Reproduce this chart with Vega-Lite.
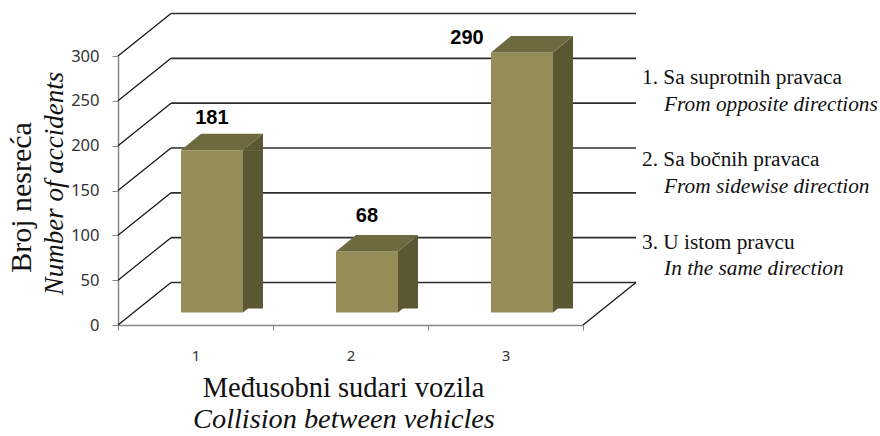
{
"$schema":"https://vega.github.io/schema/vega-lite/v6.json",
"width":465,"height":269,
"autosize":"none",
"padding":{"left":118,"top":56,"right":297,"bottom":111},
"background":"white",
"view":{"stroke":null},
"config":{"axis":{"grid":false}},
"datasets":{
"bars":[{"group":"1","accidents":181},{"group":"2","accidents":68},{"group":"3","accidents":290}],
"frame":[
{"kind":"side","x0":0.5,"x1":0.842,"y0":0,"y1":47.4},
{"kind":"side","x0":0.5,"x1":0.842,"y0":50,"y1":97.4},
{"kind":"side","x0":0.5,"x1":0.842,"y0":100,"y1":147.4},
{"kind":"side","x0":0.5,"x1":0.842,"y0":150,"y1":197.4},
{"kind":"side","x0":0.5,"x1":0.842,"y0":200,"y1":247.4},
{"kind":"side","x0":0.5,"x1":0.842,"y0":250,"y1":297.4},
{"kind":"side","x0":0.5,"x1":0.842,"y0":300,"y1":347.4},
{"kind":"side","x0":3.5,"x1":3.842,"y0":0,"y1":47.4},
{"kind":"wall","x0":0.842,"x1":3.842,"y0":47.4,"y1":47.4},
{"kind":"wall","x0":0.842,"x1":3.842,"y0":97.4,"y1":97.4},
{"kind":"wall","x0":0.842,"x1":3.842,"y0":147.4,"y1":147.4},
{"kind":"wall","x0":0.842,"x1":3.842,"y0":197.4,"y1":197.4},
{"kind":"wall","x0":0.842,"x1":3.842,"y0":247.4,"y1":247.4},
{"kind":"wall","x0":0.842,"x1":3.842,"y0":297.4,"y1":297.4},
{"kind":"wall","x0":0.842,"x1":3.842,"y0":347.4,"y1":347.4}
],
"notes":[
{"style":"value","label":"181","x":1.106,"y":230.8},
{"style":"value","label":"68","x":2.106,"y":121.6},
{"style":"value","label":"290","x":2.752,"y":320},
{"style":"roman","label":"1. Sa suprotnih pravaca","x":3.881,"y":275.5},
{"style":"italic","label":"From opposite directions","x":4.023,"y":245.3},
{"style":"roman","label":"2. Sa bočnih pravaca","x":3.881,"y":184},
{"style":"italic","label":"From sidewise direction","x":4.023,"y":153.9},
{"style":"roman","label":"3. U istom pravcu","x":3.881,"y":91.4},
{"style":"italic","label":"In the same direction","x":4.023,"y":62.5},
{"style":"xtitle","label":"Međusobni sudari vozila","x":1.955,"y":-70.5},
{"style":"xsub","label":"Collision between vehicles","x":1.958,"y":-106},
{"style":"ytitle","label":"Broj nesreća","x":-0.119,"y":142.2},
{"style":"ysub","label":"Number of accidents","x":0.094,"y":157.8}
]
},
"resolve":{"scale":{"x":"independent"},"axis":{"x":"independent"}},
"layer":[
{"data":{"name":"frame"},"transform":[{"filter":"datum.kind==='wall'"}],
 "mark":{"type":"rule","stroke":"#2e2e2e","strokeWidth":1.6},
 "encoding":{"x":{"field":"x0","type":"quantitative","axis":null,"scale":{"domain":[0.5,3.5],"nice":false,"zero":false}},"x2":{"field":"x1"},
 "y":{"field":"y0","type":"quantitative","axis":{"values":[0,50,100,150,200,250,300],"title":null,"domainColor":"#868686","tickColor":"#868686","domainWidth":1.5,"tickSize":6,"labelFont":"Noto Sans","labelFontSize":16.5,"labelColor":"#333333","labelPadding":13},"scale":{"domain":[0,300],"nice":false,"zero":false}},"y2":{"field":"y1"}}},
{"data":{"name":"frame"},"transform":[{"filter":"datum.kind==='side'"}],
 "mark":{"type":"rule","stroke":"#111111","strokeWidth":1.2},
 "encoding":{"x":{"field":"x0","type":"quantitative","axis":null,"scale":{"domain":[0.5,3.5],"nice":false,"zero":false}},"x2":{"field":"x1"},
 "y":{"field":"y0","type":"quantitative"},"y2":{"field":"y1"}}},
{"data":{"name":"bars"},
 "mark":{"type":"bar","size":62,"xOffset":16.5,"yOffset":-12.5,"fill":"#958d58"},
 "encoding":{"x":{"field":"group","type":"nominal","scale":{"paddingInner":0,"paddingOuter":0},
  "axis":{"title":null,"labelAngle":0,"tickBand":"extent","domainColor":"#868686","tickColor":"#868686","domainWidth":1.5,"tickSize":5,"labelFont":"Noto Sans","labelFontSize":15,"labelColor":"#333333","labelPadding":18}},
  "y":{"field":"accidents","type":"quantitative"}}},
{"data":{"name":"bars"},
 "mark":{"type":"bar","size":20,"xOffset":57.5,"yOffset":-12.5,"fill":"#5c5733"},
 "encoding":{"x":{"field":"group","type":"nominal","axis":null,"scale":{"paddingInner":0,"paddingOuter":0}},
  "y":{"field":"accidents","type":"quantitative"},"y2":{"datum":18.4}}},
{"data":{"name":"bars"},
 "mark":{"type":"point","filled":true,"opacity":1,"size":4,"xOffset":16.5,"yOffset":-12.5,"fill":"#5c5733","shape":"M31 0 L51 -16.5 L51 0.5 L31 0.5 Z"},
 "encoding":{"x":{"field":"group","type":"nominal","axis":null,"scale":{"paddingInner":0,"paddingOuter":0}},
  "y":{"field":"accidents","type":"quantitative"}}},
{"data":{"name":"bars"},
 "mark":{"type":"point","filled":true,"opacity":1,"size":4,"xOffset":16.5,"yOffset":-12.5,"fill":"#6f6940","shape":"M-31 0 L31 0 L51 -16.5 L-11 -16.5 Z"},
 "encoding":{"x":{"field":"group","type":"nominal","axis":null,"scale":{"paddingInner":0,"paddingOuter":0}},
  "y":{"field":"accidents","type":"quantitative"}}},
{"data":{"name":"bars"},
 "mark":{"type":"point","filled":true,"opacity":1,"size":4,"xOffset":16.5,"yOffset":-12.5,"fill":"#5c5733","shape":"M31 0 L51 -16.5 L31 -16.5 Z"},
 "encoding":{"x":{"field":"group","type":"nominal","axis":null,"scale":{"paddingInner":0,"paddingOuter":0}},
  "y":{"datum":0,"type":"quantitative"},"detail":{"field":"group"}}},
{"data":{"name":"notes"},"transform":[{"filter":"datum.style==='value'"}],
 "mark":{"type":"text","font":"Liberation Sans","fontWeight":"bold","fontSize":20,"color":"#000000","align":"center","baseline":"middle"},
 "encoding":{"x":{"field":"x","type":"quantitative","axis":null,"scale":{"domain":[0.5,3.5],"nice":false,"zero":false}},"y":{"field":"y","type":"quantitative"},"text":{"field":"label"}}},
{"data":{"name":"notes"},"transform":[{"filter":"datum.style==='roman'"}],
 "mark":{"type":"text","font":"Liberation Serif","fontSize":21.3,"color":"#111111","align":"left","baseline":"middle"},
 "encoding":{"x":{"field":"x","type":"quantitative","axis":null,"scale":{"domain":[0.5,3.5],"nice":false,"zero":false}},"y":{"field":"y","type":"quantitative"},"text":{"field":"label"}}},
{"data":{"name":"notes"},"transform":[{"filter":"datum.style==='italic'"}],
 "mark":{"type":"text","font":"Liberation Serif","fontStyle":"italic","fontSize":21.3,"color":"#111111","align":"left","baseline":"middle"},
 "encoding":{"x":{"field":"x","type":"quantitative","axis":null,"scale":{"domain":[0.5,3.5],"nice":false,"zero":false}},"y":{"field":"y","type":"quantitative"},"text":{"field":"label"}}},
{"data":{"name":"notes"},"transform":[{"filter":"datum.style==='xtitle'"}],
 "mark":{"type":"text","font":"Liberation Serif","fontSize":28.5,"color":"#111111","align":"center","baseline":"middle"},
 "encoding":{"x":{"field":"x","type":"quantitative","axis":null,"scale":{"domain":[0.5,3.5],"nice":false,"zero":false}},"y":{"field":"y","type":"quantitative"},"text":{"field":"label"}}},
{"data":{"name":"notes"},"transform":[{"filter":"datum.style==='xsub'"}],
 "mark":{"type":"text","font":"Liberation Serif","fontStyle":"italic","fontSize":28.3,"color":"#111111","align":"center","baseline":"middle"},
 "encoding":{"x":{"field":"x","type":"quantitative","axis":null,"scale":{"domain":[0.5,3.5],"nice":false,"zero":false}},"y":{"field":"y","type":"quantitative"},"text":{"field":"label"}}},
{"data":{"name":"notes"},"transform":[{"filter":"datum.style==='ytitle'"}],
 "mark":{"type":"text","font":"Liberation Serif","fontSize":30,"angle":270,"color":"#111111","align":"center","baseline":"middle"},
 "encoding":{"x":{"field":"x","type":"quantitative","axis":null,"scale":{"domain":[0.5,3.5],"nice":false,"zero":false}},"y":{"field":"y","type":"quantitative"},"text":{"field":"label"}}},
{"data":{"name":"notes"},"transform":[{"filter":"datum.style==='ysub'"}],
 "mark":{"type":"text","font":"Liberation Serif","fontStyle":"italic","fontSize":27,"angle":270,"color":"#111111","align":"center","baseline":"middle"},
 "encoding":{"x":{"field":"x","type":"quantitative","axis":null,"scale":{"domain":[0.5,3.5],"nice":false,"zero":false}},"y":{"field":"y","type":"quantitative"},"text":{"field":"label"}}}
]
}
